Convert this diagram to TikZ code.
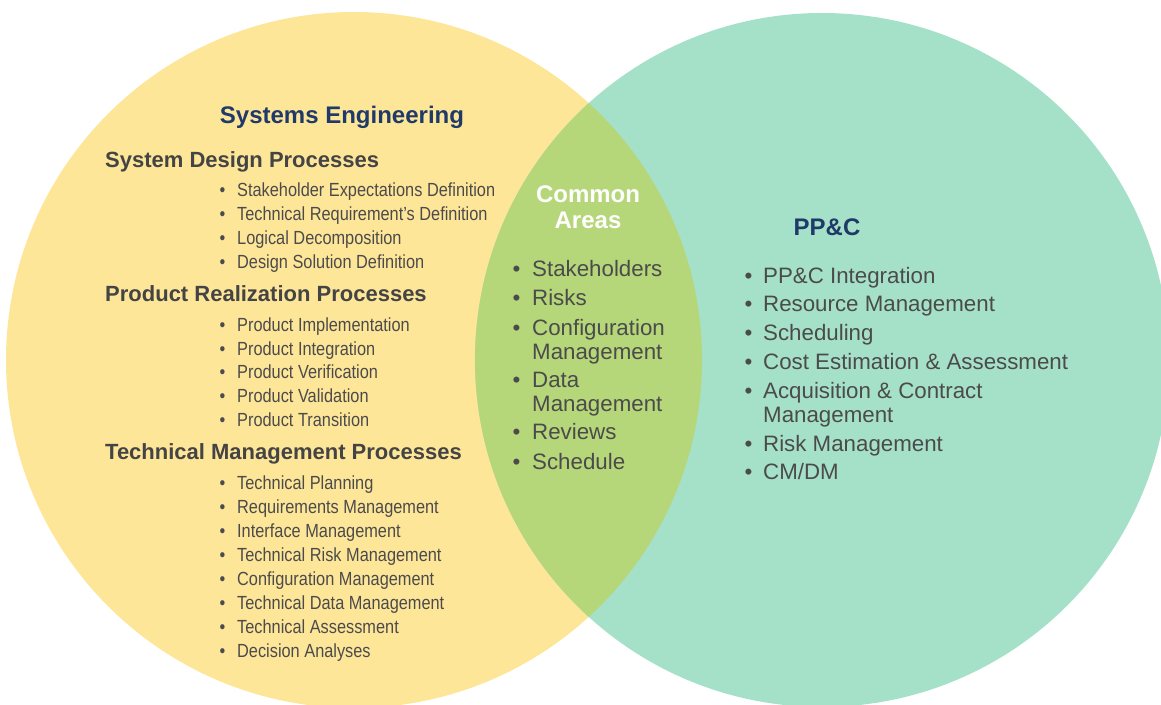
\documentclass[tikz,border=0pt]{standalone}
\usepackage{fontspec}
\setmainfont{Liberation Sans}
\newfontfamily\narrowfont[FakeStretch=0.86]{Liberation Sans}
\usepackage{xcolor}
\usetikzlibrary{positioning}

\definecolor{seyellow}{HTML}{FEE699}
\definecolor{ppcgreen}{HTML}{A5E1C8}
\definecolor{lensgreen}{HTML}{B6D67A}
\definecolor{navy}{HTML}{1F3A68}
\definecolor{headgray}{HTML}{444444}
\definecolor{txtgray}{HTML}{4B4B4B}

\newcommand{\bul}[1]{\makebox[#1][l]{\textbullet}}

\tikzset{
    title/.style={anchor=base, inner sep=0pt, text=navy, font=\fontsize{24}{28}\selectfont\bfseries},
    heading/.style={anchor=base west, inner sep=0pt, text=headgray, font=\fontsize{22}{24}\selectfont\bfseries},
    sitem/.style={anchor=base west, inner sep=0pt, text=txtgray, font=\narrowfont\fontsize{19}{24}\selectfont},
    bitem/.style={anchor=base west, inner sep=0pt, text=txtgray, font=\fontsize{22.3}{24}\selectfont}
}

\begin{document}
\begin{tikzpicture}[x=1pt, y=-1pt]
        \useasboundingbox (0,0) rectangle (1161,704);

        % the two sets and their overlap
        \fill[seyellow] (354,360) circle (348);
        \fill[ppcgreen] (822,360) circle (347);
        \begin{scope}
            \clip (354,360) circle (348);
            \fill[lensgreen] (822,360) circle (347);
        \end{scope}

        % left set
        \node[title] at (342,123) (se) {Systems Engineering};

        \node[heading] at (105,167) (sdp) {System Design Processes};
        \foreach \t/\y [count=\i] in {Stakeholder Expectations Definition/196.5,
            Technical Requirement’s Definition/220.5, Logical Decomposition/244.5,
            Design Solution Definition/268.5}
            \node[sitem] at (219.5,\y) (sd\i) {\bul{17.5pt}\t};

        \node[heading] at (105,301) (prp) {Product Realization Processes};
        \foreach \t/\y [count=\i] in {Product Implementation/331.5,
            Product Integration/355.5, Product Verification/378.5,
            Product Validation/402.5, Product Transition/426.5}
            \node[sitem] at (219.5,\y) (pr\i) {\bul{17.5pt}\t};

        \node[heading] at (105,459) (tmp) {Technical Management Processes};
        \foreach \t/\y [count=\i] in {Technical Planning/489.5,
            Requirements Management/513.5, Interface Management/537.5,
            Technical Risk Management/561.5, Configuration Management/585.5,
            Technical Data Management/609.5, Technical Assessment/633.5,
            Decision Analyses/657.5}
            \node[sitem] at (219.5,\y) (tm\i) {\bul{17.5pt}\t};

        % overlap
        \node[anchor=base, inner sep=0pt, text=white,
            font=\fontsize{24}{26}\selectfont\bfseries] at (588,202) (common) {Common};
        \node[anchor=base, inner sep=0pt, text=white,
            font=\fontsize{24}{26}\selectfont\bfseries] at (588,228) (areas) {Areas};

        \foreach \t/\y [count=\i] in {Stakeholders/276.5, Risks/305,
            Configuration/335, Data/387, Reviews/439, Schedule/469}
            \node[bitem] at (512.5,\y) (ca\i) {\bul{19.5pt}\t};
        \node[bitem] at (532,359) (ca3b) {Management};
        \node[bitem] at (532,411) (ca4b) {Management};

        % right set
        \node[title] at (827,235) (ppc) {PP\&C};
        \foreach \t/\y [count=\i] in {PP\&C Integration/283,
            Resource Management/311, Scheduling/340,
            Cost Estimation \& Assessment/369, Acquisition \& Contract/398,
            Risk Management/451, CM{/}DM/479}
            \node[bitem] at (744.5,\y) (pc\i) {\bul{18.5pt}\t};
        \node[bitem] at (763,422) (pc5b) {Management};
    \end{tikzpicture}
\end{document}
